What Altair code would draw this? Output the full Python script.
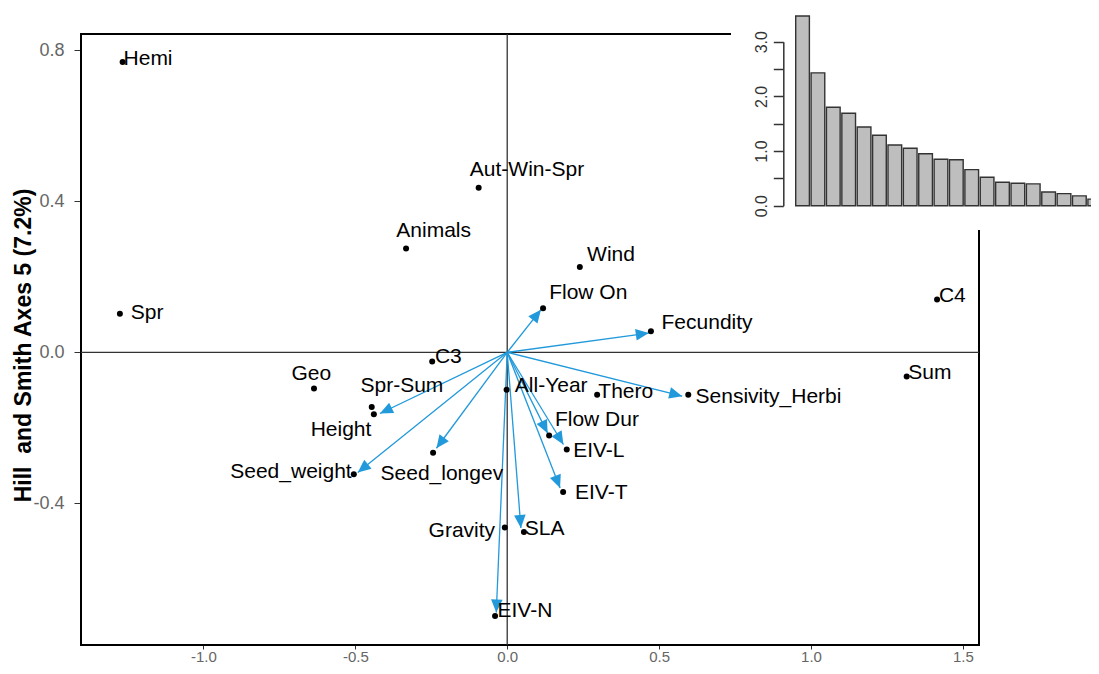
import math
import altair as alt
import pandas as pd

# ---------------- data ----------------
point_names = ["Hemi", "Spr", "Aut-Win-Spr", "Animals", "Wind", "Flow On", "Fecundity", "C4",
               "C3", "Geo", "Spr-Sum", "Height", "Seed_weight", "Seed_longev", "All-Year", "Thero",
               "Sensivity_Herbi", "Sum", "Flow Dur", "EIV-L", "EIV-T", "SLA", "Gravity", "EIV-N"]
point_x = [-1.266, -1.275, -0.094, -0.333, 0.239, 0.118, 0.473, 1.415,
           -0.247, -0.636, -0.446, -0.439, -0.505, -0.244, -0.002, 0.296,
           0.596, 1.315, 0.138, 0.196, 0.184, 0.055, -0.008, -0.040]
point_y = [0.769, 0.102, 0.436, 0.275, 0.226, 0.117, 0.056, 0.140,
           -0.024, -0.096, -0.145, -0.164, -0.323, -0.266, -0.099, -0.112,
           -0.112, -0.064, -0.220, -0.257, -0.370, -0.476, -0.464, -0.698]
label_x = [-1.263, -1.239, -0.123, -0.365, 0.263, 0.138, 0.508, 1.421,
           -0.238, -0.710, -0.483, -0.647, -0.512, -0.417, 0.025, 0.300,
           0.620, 1.320, 0.157, 0.217, 0.223, 0.058, -0.040, -0.032]
label_y = [0.777, 0.105, 0.483, 0.322, 0.258, 0.157, 0.079, 0.148,
           -0.013, -0.057, -0.089, -0.205, -0.318, -0.322, -0.089, -0.104,
           -0.117, -0.055, -0.179, -0.260, -0.373, -0.468, -0.473, -0.685]
label_side = ["left", "left", "left", "left", "left", "left", "left", "left",
              "left", "left", "left", "left", "right", "left", "left", "left",
              "left", "left", "left", "left", "left", "left", "right", "left"]

arrow_names = ["Flow On", "Fecundity", "Sensivity_Herbi", "Height", "Seed_weight", "Seed_longev",
               "Flow Dur", "EIV-L", "EIV-T", "SLA", "EIV-N"]
arrow_x = [0.111, 0.466, 0.576, -0.419, -0.492, -0.233, 0.133, 0.185, 0.174, 0.045, -0.036]
arrow_y = [0.113, 0.051, -0.116, -0.162, -0.318, -0.254, -0.214, -0.244, -0.359, -0.465, -0.689]

eigenvalues = [3.47, 2.43, 1.80, 1.69, 1.44, 1.29, 1.11, 1.05, 0.95, 0.85,
               0.84, 0.66, 0.52, 0.43, 0.41, 0.40, 0.25, 0.22, 0.18, 0.12]

x_ticks = [-1.0, -0.5, 0.0, 0.5, 1.0, 1.5]
y_ticks = [-0.4, 0.0, 0.4, 0.8]
eig_ticks = [0, 0.5, 1.0, 1.5, 2.0, 2.5, 3.0]
y_title = "Hill\u00a0 and Smith Axes 5 (7.2%)"

# ---------------- layout ----------------
XMIN, XMAX = -1.403, 1.553
YMIN, YMAX = -0.775, 0.843
W, H = 898, 611
PAD = {"left": 73, "top": 26, "right": 112, "bottom": 21}
FONT = "Liberation Sans"
ARROW_COLOR = "#2199db"
HYPHEN_EXPR = "replace(format(datum.value, '.1f'), '\u2212', '-')"

sx = W / (XMAX - XMIN)
sy = H / (YMAX - YMIN)

pts = pd.DataFrame({"name": point_names, "px": point_x, "py": point_y,
                    "lx": label_x, "ly": label_y, "side": label_side})
arr = pd.DataFrame({"name": arrow_names, "ax": arrow_x, "ay": arrow_y})
arr["angle"] = [(math.degrees(math.atan2(x * sx, y * sy)) + 360) % 360 for x, y in zip(arrow_x, arrow_y)]
eig = pd.DataFrame({"k": list(range(1, len(eigenvalues) + 1)), "eig": eigenvalues})

xs = alt.Scale(domain=[XMIN, XMAX], nice=False, zero=False)
ys = alt.Scale(domain=[YMIN, YMAX], nice=False, zero=False)
x_axis = alt.Axis(values=x_ticks, labelExpr=HYPHEN_EXPR, title=None, domain=False, grid=False,
                  tickSize=4, tickColor="#333", tickWidth=1, labelColor="#666",
                  labelFontSize=15, labelFont=FONT, labelPadding=0, labelFlush=False)
y_axis = alt.Axis(values=y_ticks, labelExpr=HYPHEN_EXPR, title=y_title, domain=False, grid=False,
                  tickSize=7, tickColor="#333", tickWidth=1, labelColor="#666",
                  labelFontSize=18, labelFont=FONT, labelPadding=10, labelFlush=False,
                  titleFont=FONT, titleFontSize=23, titleFontWeight="bold", titleColor="black",
                  titleAngle=270, titleAlign="center", titleBaseline="middle",
                  titleX=-58, titleY=311)


def X(f):
    return alt.X(f, type="quantitative", scale=xs, axis=x_axis)


def Y(f):
    return alt.Y(f, type="quantitative", scale=ys, axis=y_axis)


one = alt.Data(values=[{}])

border = alt.Chart(one).mark_rect(fill="white", fillOpacity=0, stroke="black", strokeWidth=2).encode(
    x=alt.value(0), x2=alt.value(W), y=alt.value(0), y2=alt.value(H))

hline = alt.Chart(one).mark_rule(color="#333", strokeWidth=1.3).encode(
    y=alt.YDatum(0, type="quantitative", scale=ys, axis=y_axis))
vline = alt.Chart(one).mark_rule(color="#333", strokeWidth=1.3).encode(
    x=alt.XDatum(0, type="quantitative", scale=xs, axis=x_axis))

arrows = alt.Chart(arr).mark_rule(color=ARROW_COLOR, strokeWidth=1.3).encode(
    x=X("ax"), y=Y("ay"), x2=alt.X2Datum(0), y2=alt.Y2Datum(0))
heads = alt.Chart(arr).mark_point(shape="M0,0L-0.58,1.3L0.58,1.3Z", size=400, filled=True,
                                  fill=ARROW_COLOR, stroke=None, opacity=1).encode(
    x=X("ax"), y=Y("ay"), angle=alt.Angle("angle:Q", scale=None))

dots = alt.Chart(pts).mark_circle(size=36, color="black", opacity=1).encode(x=X("px"), y=Y("py"))

labels_l = alt.Chart(pts).transform_filter(alt.datum.side == "left").mark_text(
    align="left", baseline="middle", font=FONT, fontSize=21, color="black").encode(
    x=X("lx"), y=Y("ly"), text="name:N")
labels_r = alt.Chart(pts).transform_filter(alt.datum.side == "right").mark_text(
    align="right", baseline="middle", font=FONT, fontSize=21, color="black").encode(
    x=X("lx"), y=Y("ly"), text="name:N")

main = alt.layer(border, hline, vline, arrows, heads, dots, labels_l, labels_r)

# ---------------- inset (eigenvalue bar plot) ----------------
inset_bg = alt.Chart(one).mark_rect(fill="white").encode(
    x=alt.value(650), x2=alt.value(1040), y=alt.value(-40), y2=alt.value(196))

inset_axis = alt.Axis(orient="left", offset=-702.3, values=eig_ticks, title=None, grid=False,
                      labelExpr="datum.value % 1 === 0 ? format(datum.value, '.1f') : ''",
                      labelAngle=270, labelAlign="center", labelBaseline="middle",
                      labelPadding=12, labelFontSize=16, labelFont=FONT, labelColor="#333",
                      tickSize=10, tickColor="#333", tickWidth=1.5,
                      domainColor="#333", domainWidth=1.5, zindex=2, labelFlush=False)

inset_bars = alt.Chart(eig).mark_bar(fill="#bebebe", stroke="#333", strokeWidth=1.4).encode(
    x=alt.X("k:O", scale=alt.Scale(range=[714.7, 1020.6], paddingInner=0.11, paddingOuter=0), axis=None),
    y=alt.Y("eig:Q", scale=alt.Scale(domain=[0, 3], range=[171.7, 7.7], nice=False, zero=True),
            axis=inset_axis))

inset = alt.layer(inset_bg, inset_bars)

chart = alt.layer(main, inset).resolve_scale(x="independent", y="independent").properties(
    width=W, height=H, padding=PAD, autosize=alt.AutoSizeParams(type="none"),
    background="white"
).configure_view(stroke=None)

chart.save("out.html", embed_options={"renderer": "svg", "actions": False})
